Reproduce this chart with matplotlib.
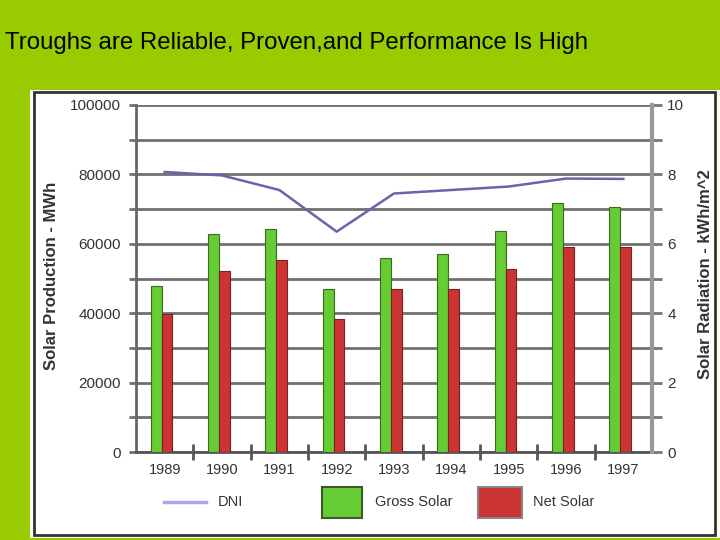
import matplotlib
matplotlib.use("Agg")
import matplotlib.pyplot as plt
import numpy as np
from matplotlib.patches import Rectangle
from matplotlib.lines import Line2D

# データ
years = ["1989", "1990", "1991", "1992", "1993", "1994", "1995", "1996", "1997"]
gross_solar = [47700, 62700, 64200, 47100, 55800, 57200, 63600, 71700, 70500]
net_solar = [39900, 52300, 55300, 38400, 47000, 47000, 52600, 59200, 59200]
dni = [8.07, 7.97, 7.55, 6.35, 7.45, 7.55, 7.65, 7.88, 7.87]

plt.rcParams['font.family'] = ['Liberation Sans', 'DejaVu Sans']

W, H = 720, 540
fig = plt.figure(figsize=(7.2, 5.4), dpi=100)
fig.patch.set_facecolor('#99CC00')

def fx(px): return px / W
def fy(py): return 1 - py / H

# 白いパネルと枠 (軸より下に)
fig.patches.append(Rectangle((fx(30), fy(538)), fx(690), 448 / H, transform=fig.transFigure,
                             facecolor='#FAFFF0', edgecolor='none', zorder=-3))
fig.patches.append(Rectangle((fx(34), fy(535)), 681 / W, 443 / H, transform=fig.transFigure,
                             facecolor='white', edgecolor='#333333', linewidth=2, zorder=-2))

fig.text(fx(5), fy(43), "Troughs are Reliable, Proven,and Performance Is High",
         fontsize=17.3, color='black', va='center', ha='left')

ax = fig.add_axes([fx(136), fy(452), 516 / W, 347 / H])
ax.set_facecolor('white')
x = np.arange(len(years))
w = 0.19
ax.bar(x - 0.15, gross_solar, w, color='#66CC33', edgecolor='#3A6B1E', linewidth=0.8, zorder=3)
ax.bar(x + 0.04, net_solar, w, color='#CC3333', edgecolor='#7A2020', linewidth=0.8, zorder=3)

ax.set_xlim(-0.5, len(years) - 0.5)
ax.set_ylim(0, 100000)
ax.set_yticks(np.arange(0, 100001, 20000))
ax.set_yticks(np.arange(0, 100001, 10000), minor=True)
ax.set_yticklabels([str(v) for v in range(0, 100001, 20000)], fontsize=11, color='#333333')
ax.grid(axis='y', which='both', color='#707070', linewidth=2, zorder=1)
ax.tick_params(axis='y', which='both', length=5, width=2, color='#707070', pad=6)

ax.set_xticks(x)
ax.set_xticklabels(years, fontsize=10.5, color='#333333')
ax.set_xticks(np.arange(0.5, len(years) - 0.5, 1), minor=True)
ax.tick_params(axis='x', which='major', length=0, pad=8)
ax.tick_params(axis='x', which='minor', length=12, width=2, direction='inout', color='#555555')

for s in ['top', 'right']:
    ax.spines[s].set_visible(False)
ax.spines['left'].set_color('#666666')
ax.spines['left'].set_linewidth(2)
ax.spines['bottom'].set_color('#555555')
ax.spines['bottom'].set_linewidth(2)

ax.set_ylabel("Solar Production - MWh", fontsize=12, fontweight='bold', color='#333333')
ax.yaxis.set_label_coords(-0.149, 0.507)

ax2 = ax.twinx()
ax2.plot(x, dni, color='#6666AA', linewidth=1.8, zorder=4)
ax2.set_ylim(0, 10)
ax2.set_yticks(np.arange(0, 11, 2))
ax2.set_yticks(np.arange(0, 11, 1), minor=True)
ax2.set_yticklabels([str(v) for v in range(0, 11, 2)], fontsize=11, color='#333333')
ax2.tick_params(axis='y', which='both', length=7, width=2, color='#777777', pad=4)
for s in ['top', 'left', 'bottom']:
    ax2.spines[s].set_visible(False)
ax2.spines['right'].set_color('#999999')
ax2.spines['right'].set_linewidth(3)
ax2.set_ylabel("Solar Radiation - kWh/m^2", fontsize=12, fontweight='bold', color='#333333')
ax2.yaxis.set_label_coords(1.089, 0.513)

# 凡例
fig.lines.append(Line2D([fx(164), fx(206)], [fy(502), fy(502)], transform=fig.transFigure,
                        color='#A8A8E8', linewidth=2.5))
fig.text(fx(218), fy(502), "DNI", fontsize=10.5, color='#333333', va='center')
fig.patches.append(Rectangle((fx(322), fy(518)), 40 / W, 31 / H, transform=fig.transFigure,
                             facecolor='#66CC33', edgecolor='#3A5A2A', linewidth=1.5, zorder=2))
fig.text(fx(375), fy(502), "Gross Solar", fontsize=10.5, color='#333333', va='center')
fig.patches.append(Rectangle((fx(478), fy(518)), 44 / W, 31 / H, transform=fig.transFigure,
                             facecolor='#CC3333', edgecolor='#888888', linewidth=1.5, zorder=2))
fig.text(fx(533), fy(502), "Net Solar", fontsize=10.5, color='#333333', va='center')

fig.savefig("out.png", dpi=100, facecolor=fig.get_facecolor())
